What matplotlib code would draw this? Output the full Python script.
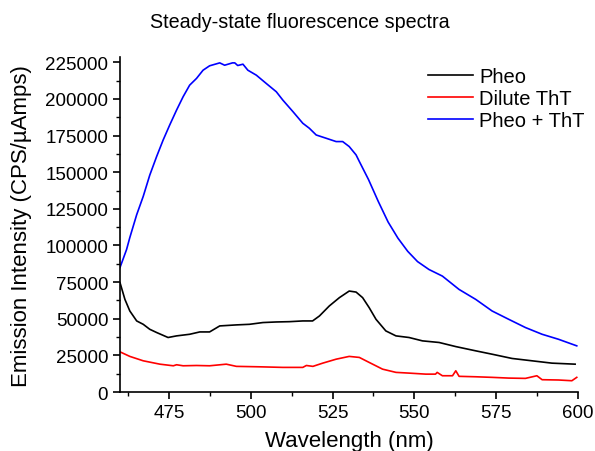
import matplotlib
matplotlib.use("Agg")
import matplotlib.pyplot as plt
from matplotlib.ticker import MultipleLocator

plt.rcParams["font.family"] = ["Liberation Sans", "DejaVu Sans"]

# Pheo + ThT (blue)
wl_mix = [460, 462, 463, 465.1, 467.1, 469.1, 471.2, 473.2, 475.2, 477.3, 479.3,
          481.3, 483.4, 485.4, 487.4, 490.5, 492, 494.4, 495.1, 496, 497.6, 499.1,
          501.7, 504.7, 507.8, 509.8, 512.9, 515.9, 517.9, 520, 523, 526.1, 528.1,
          530.1, 532.2, 533.2, 536, 539, 542, 545, 548, 551, 554.5, 558.6, 563.7,
          568.8, 573.8, 578.9, 584, 589.1, 594.1, 599.7]
i_mix = [85000, 97200, 105400, 121000, 133500, 148000, 160700, 172000, 182200,
         192400, 201500, 209400, 214000, 219600, 222600, 224600, 223000, 224600,
         224600, 222800, 223700, 219600, 216200, 210600, 204900, 199200, 191300,
         183400, 180000, 175400, 173200, 170900, 170900, 167500, 161800, 157300,
         145000, 130000, 116000, 105000, 96000, 89000, 83600, 79100, 70000, 63200,
         55300, 49600, 44000, 39400, 36000, 31500]

# Pheo (black)
wl_pheo = [460, 461.5, 463, 465.1, 467.1, 469.1, 471.2, 474.7, 477.3, 481.3, 484.4,
           487.4, 490.5, 495.6, 499.6, 503.7, 507.8, 511.8, 515.9, 518.9, 521, 524,
           527.1, 530.1, 532.2, 534.2, 536.2, 538.3, 541.3, 544.4, 548.4, 552.5,
           557.6, 562.7, 568.8, 573.8, 579.9, 586, 592.1, 599.2]
i_pheo = [74600, 63200, 55300, 48500, 46200, 42800, 40600, 37200, 38300, 39400,
          41000, 41000, 45100, 45800, 46200, 47400, 47800, 48000, 48500, 48500,
          51900, 58700, 64400, 68900, 68200, 64400, 57600, 49600, 41700, 38300,
          37200, 34900, 33800, 31000, 28100, 25800, 22900, 21300, 19700, 19000]

# Dilute ThT (red)
wl_tht = [460, 463, 467.1, 472.2, 476.3, 477.3, 479.3, 483.4, 487.4, 492.5, 495.6,
          502.7, 509.8, 515.9, 517, 519, 522, 526.1, 530.1, 533.2, 536.2, 540.3,
          544.4, 548.4, 553.5, 556.5, 557, 558.6, 561.7, 562.7, 563.7, 568.8, 573.8,
          578.9, 584, 587.5, 589.1, 594.1, 598.2, 599.7]
i_tht = [27400, 24300, 21300, 19000, 17900, 18600, 17900, 18100, 17900, 19000,
         17500, 17200, 16800, 16800, 18100, 17500, 19700, 22400, 24300, 23600,
         20200, 15600, 13400, 12900, 12200, 12200, 13400, 11100, 11100, 14500,
         10700, 10400, 10000, 9500, 9300, 11100, 8400, 8200, 7700, 10000]

fig = plt.figure(figsize=(5.95, 4.52), dpi=100)
ax = fig.add_axes([0.2017, 0.1305, 0.7693, 0.7405])

ax.plot(wl_pheo, i_pheo, color="black", lw=1.2, label="Pheo")
ax.plot(wl_tht, i_tht, color="#ff0000", lw=1.2, label="Dilute ThT")
ax.plot(wl_mix, i_mix, color="#0000ff", lw=1.2, label="Pheo + ThT")

ax.set_xlim(460, 600)
ax.set_ylim(0, 228400)
ax.set_xticks([475, 500, 525, 550, 575, 600])
ax.xaxis.set_minor_locator(MultipleLocator(12.5))
ax.yaxis.set_major_locator(MultipleLocator(25000))
ax.yaxis.set_minor_locator(MultipleLocator(12500))
ax.tick_params(which="major", direction="out", length=5, width=1.2, labelsize=13.5)
ax.tick_params(which="minor", direction="out", length=3, width=1.0)
for side in ("top", "right"):
    ax.spines[side].set_visible(False)
for side in ("left", "bottom"):
    ax.spines[side].set_linewidth(1.2)

ax.set_xlabel("Wavelength (nm)", fontsize=16, va="center")
ax.xaxis.set_label_coords(0.502, -0.145)
ax.set_ylabel("Emission Intensity (CPS/\u00b5Amps)", fontsize=16,
              va="center", ha="center")
ax.yaxis.set_label_coords(-0.216, 0.5)
fig.text(300 / 595, 1 - 23 / 452, "Steady-state fluorescence spectra",
         fontsize=14.2, ha="center", va="center")
ax.legend(loc="upper right", frameon=False, fontsize=14.5, handlelength=2.25,
          handletextpad=0.3, labelspacing=0.15, borderaxespad=0,
          bbox_to_anchor=(593 / 595, 1 - 60 / 452),
          bbox_transform=fig.transFigure)

fig.savefig("out.png", dpi=100)
plt.close(fig)
